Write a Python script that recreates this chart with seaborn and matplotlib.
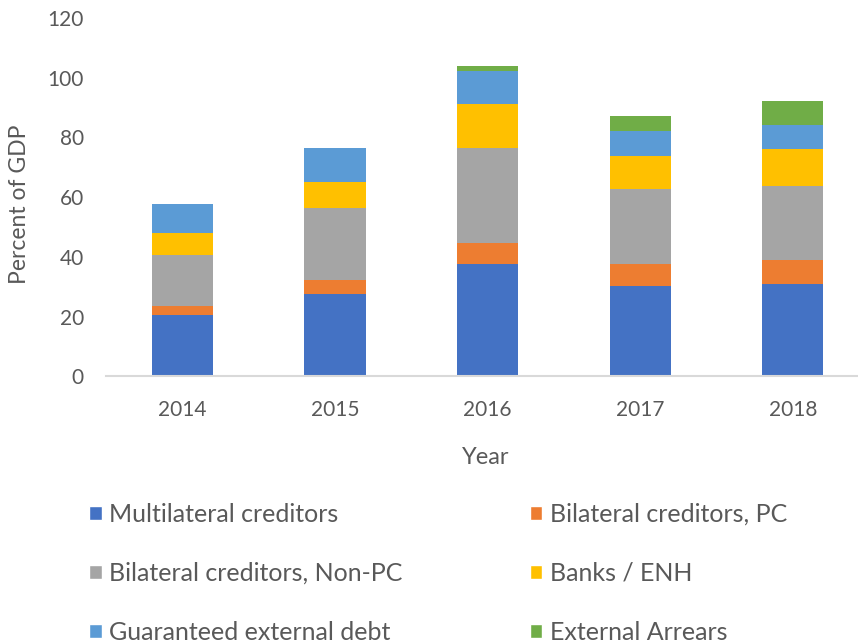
"""External public debt by creditor, stacked by year (percent of GDP)."""

import matplotlib.pyplot as plt
import numpy as np
import pandas as pd
import seaborn as sns
from matplotlib.patches import Patch

years = ["2014", "2015", "2016", "2017", "2018"]
multilateral = [20.6, 27.5, 37.5, 30.4, 30.8]
bilateral_pc = [2.9, 4.7, 7.1, 7.2, 8.1]
bilateral_non_pc = [17.1, 24.2, 32.0, 25.2, 24.9]
banks_enh = [7.5, 8.7, 14.6, 11.0, 12.2]
guaranteed = [9.7, 11.3, 11.2, 8.4, 8.1]
arrears = [0.0, 0.0, 1.6, 4.9, 8.0]

series = [
    ("Multilateral creditors", multilateral, "#4472C4"),
    ("Bilateral creditors, PC", bilateral_pc, "#ED7D31"),
    ("Bilateral creditors, Non-PC", bilateral_non_pc, "#A5A5A5"),
    ("Banks / ENH", banks_enh, "#FFC000"),
    ("Guaranteed external debt", guaranteed, "#5B9BD5"),
    ("External Arrears", arrears, "#70AD47"),
]

sns.set_theme(style="white")
plt.rcParams["font.family"] = ["Lato", "DejaVu Sans"]
TEXT = "#595959"

df = pd.DataFrame({name: vals for name, vals, _ in series}, index=years)
cum = df.cumsum(axis=1)

fig = plt.figure(figsize=(8.58, 6.44), dpi=100)
ax = fig.add_axes([106 / 858, 0.4154, 752 / 858, 0.5567])

# overlap trick: tallest cumulative first, each lower layer painted on top
for name, _, color in reversed(series):
    sns.barplot(x=years, y=cum[name].values, color=color, width=0.4,
                saturation=1, linewidth=0, edgecolor="none", ax=ax, zorder=2)

ax.set_ylim(0, 120)
ax.set_xlim(-0.5, 4.426)
ax.set_yticks(np.arange(0, 121, 20))
for side in ["top", "right", "left"]:
    ax.spines[side].set_visible(False)
ax.spines["bottom"].set_color("#D9D9D9")
ax.spines["bottom"].set_linewidth(1.5)
ax.tick_params(axis="both", length=0, labelsize=15, labelcolor=TEXT, pad=16)
ax.tick_params(axis="x", pad=17)

ax.set_ylabel("Percent of GDP", fontsize=16.5, color=TEXT)
ax.yaxis.set_label_coords(-0.101, 0.48)
ax.set_xlabel("Year", fontsize=17, color=TEXT)
ax.xaxis.set_label_coords(0.505, -0.197)

handles = [Patch(facecolor=c, label=n) for n, _, c in series]
order = [0, 2, 4, 1, 3, 5]
fig.legend([handles[i] for i in order], [handles[i].get_label() for i in order],
           loc="upper left", bbox_to_anchor=(89 / 858, 1 - 503 / 644),
           ncol=2, frameon=False, fontsize=18, labelcolor=TEXT,
           handlelength=0.5, handleheight=0.5, handletextpad=0.3,
           labelspacing=1.43, columnspacing=5.1, borderpad=0, borderaxespad=0)

fig.savefig("out.png", dpi=100)
